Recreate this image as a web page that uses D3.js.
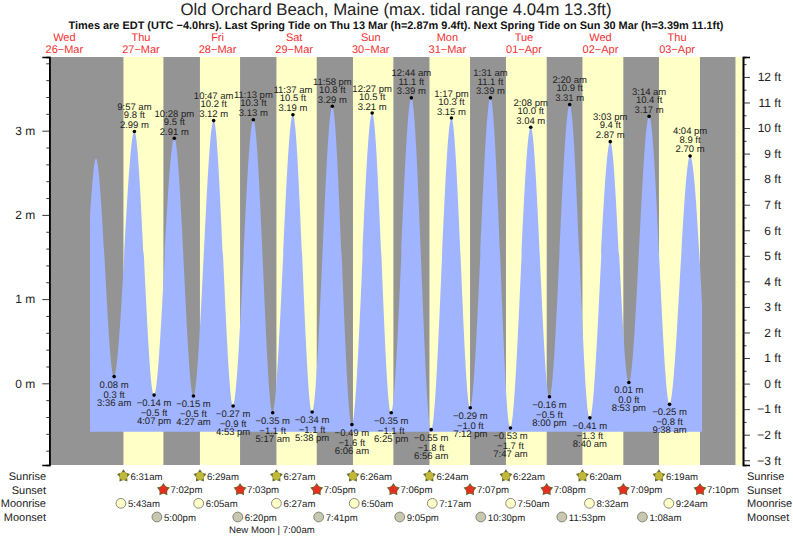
<!DOCTYPE html>
<html>
<head>
<meta charset="utf-8">
<title>Old Orchard Beach tide chart</title>
<script src="https://d3js.org/d3.v7.min.js"></script>
<style>
  body { margin: 0; background: #fff; }
  svg { display: block; }
  text { font-family: "Liberation Sans", Arial, sans-serif; text-rendering: geometricPrecision; }
</style>
</head>
<body>
<svg id="chart" width="793" height="539"></svg>
<script>
// tide extremes as printed on the chart
var tideDates = ["03-27","03-27","03-27","03-27","03-28","03-28","03-28","03-28","03-29","03-29","03-29","03-29",
                 "03-30","03-30","03-30","03-31","03-31","03-31","03-31","04-01","04-01","04-01","04-01",
                 "04-02","04-02","04-02","04-02","04-03","04-03","04-03"];
var tideTimes = ["3:36 am","9:57 am","4:07 pm","10:28 pm","4:27 am","10:47 am","4:53 pm","11:13 pm","5:17 am","11:37 am","5:38 pm","11:58 pm",
                 "6:06 am","12:27 pm","6:25 pm","12:44 am","6:56 am","1:17 pm","7:12 pm","1:31 am","7:47 am","2:08 pm","8:00 pm",
                 "2:20 am","8:40 am","3:03 pm","8:53 pm","3:14 am","9:38 am","4:04 pm"];
var tideMetres = [0.08,2.99,-0.14,2.91,-0.15,3.12,-0.27,3.13,-0.35,3.19,-0.34,3.29,
                  -0.49,3.21,-0.35,3.39,-0.55,3.15,-0.29,3.39,-0.53,3.04,-0.16,
                  3.31,-0.41,2.87,0.01,3.17,-0.25,2.70];
var tideFeet = [0.3,9.8,-0.5,9.5,-0.5,10.2,-0.9,10.3,-1.1,10.5,-1.1,10.8,
                -1.6,10.5,-1.1,11.1,-1.8,10.3,-1.0,11.1,-1.7,10.0,-0.5,
                10.9,-1.3,9.4,0.0,10.4,-0.8,8.9];
// unlabelled ends of the curve
var leadInDates = ["03-26","03-26"];
var leadInTimes = ["8:03 pm","9:54 pm"];
var leadInMetres = [2.0,2.67];
var leadOutDates = ["04-03"];
var leadOutTimes = ["7:50 pm"];
var leadOutMetres = [0.94];
var fillFloor = -0.575;

var dayLabels = ["Wed","Thu","Fri","Sat","Sun","Mon","Tue","Wed","Thu"];
var dayDates = ["03-26","03-27","03-28","03-29","03-30","03-31","04-01","04-02","04-03"];
var dayNames = ["26\u2212Mar","27\u2212Mar","28\u2212Mar","29\u2212Mar","30\u2212Mar","31\u2212Mar","01\u2212Apr","02\u2212Apr","03\u2212Apr"];

var sunDates = ["03-27","03-28","03-29","03-30","03-31","04-01","04-02","04-03"];
var sunrises = ["6:31am","6:29am","6:27am","6:26am","6:24am","6:22am","6:20am","6:19am"];
var sunsets = ["7:02pm","7:03pm","7:05pm","7:06pm","7:07pm","7:08pm","7:09pm","7:10pm"];
var lastDawn = "04-04 6:17am";

var moonriseDates = ["03-27","03-28","03-29","03-30","03-31","04-01","04-02","04-03"];
var moonrises = ["5:43am","6:05am","6:27am","6:50am","7:17am","7:50am","8:32am","9:24am"];
var moonsetDates = ["03-27","03-28","03-29","03-30","03-31","04-01","04-03"];
var moonsets = ["5:00pm","6:20pm","7:41pm","9:05pm","10:30pm","11:53pm","1:08am"];

var metreTicks = [0,1,2,3];
var metreMinor = [-0.8,-0.6,-0.4,-0.2,0.2,0.4,0.6,0.8,1.2,1.4,1.6,1.8,2.2,2.4,2.6,2.8,3.2,3.4,3.6,3.8];
var feetTicks = [-3,-2,-1,0,1,2,3,4,5,6,7,8,9,10,11,12];
var feetMinor = [-2.5,-1.5,-0.5,0.5,1.5,2.5,3.5,4.5,5.5,6.5,7.5,8.5,9.5,10.5,11.5,12.5];

var minus = function(s) { return String(s).replace("-", "\u2212"); };
var parseTide = d3.utcParse("%Y-%m-%d %I:%M %p");
var parseSun = d3.utcParse("%Y-%m-%d %I:%M%p");
var tideDate = function(d, t) { return parseTide("2025-" + d + " " + t); };
var sunDate = function(d, t) { return parseSun("2025-" + d + " " + t); };

var plotLeft = 50, plotRight = 742, plotTop = 57, plotBottom = 465;

var x = d3.scaleUtc()
    .domain([tideDate("03-26", "7:30 am"), tideDate("04-04", "8:20 am")])
    .range([plotLeft, plotRight]);
var y = d3.scaleLinear().domain([-0.97, 3.875]).range([plotBottom, plotTop]);
var yFeet = d3.scaleLinear().domain([-3.186, 12.78]).range([plotBottom, plotTop]);

var svg = d3.select("#chart");

// night as the plot background, daylight bands on top
svg.append("rect").attr("x", plotLeft).attr("y", plotTop)
    .attr("width", plotRight - plotLeft).attr("height", plotBottom - plotTop).attr("fill", "#949494");

var dawns = sunDates.map(function(d, i) { return sunDate(d, sunrises[i]); });
var dusks = sunDates.map(function(d, i) { return sunDate(d, sunsets[i]); });
var bands = dawns.map(function(d, i) { return [d, dusks[i]]; });
bands.push([sunDate(lastDawn.slice(0, 5), lastDawn.slice(6)), x.domain()[1]]);

svg.append("g").selectAll("rect").data(bands).enter().append("rect")
    .attr("x", function(d) { return x(d[0]); })
    .attr("y", plotTop)
    .attr("width", function(d) { return x(d[1]) - x(d[0]); })
    .attr("height", plotBottom - plotTop)
    .attr("fill", "#ffffc8");

// tide curve
var extremes = tideDates.map(function(d, i) {
    return { t: tideDate(d, tideTimes[i]), m: tideMetres[i], ft: tideFeet[i], label: tideTimes[i] };
});
var curve = leadInDates.map(function(d, i) { return { t: tideDate(d, leadInTimes[i]), m: leadInMetres[i] }; })
    .concat(extremes)
    .concat(leadOutDates.map(function(d, i) { return { t: tideDate(d, leadOutTimes[i]), m: leadOutMetres[i] }; }));

var area = d3.area()
    .x(function(d) { return x(d.t); })
    .y0(y(fillFloor))
    .y1(function(d) { return y(d.m); })
    .curve(d3.curveMonotoneX);

svg.append("path").datum(curve).attr("d", area).attr("fill", "#a0b4ff");

svg.append("g").selectAll("circle").data(extremes).enter().append("circle")
    .attr("cx", function(d) { return x(d.t); })
    .attr("cy", function(d) { return y(d.m); })
    .attr("r", 1.8)
    .attr("fill", "#000");

// three line label by each high and low
var labels = svg.append("g").attr("font-size", 9.5).attr("fill", "#222").attr("text-anchor", "middle");
extremes.forEach(function(d, i) {
    var high = i > 0 ? d.m > extremes[i - 1].m : false;
    var offs = high ? [-3.5, -13.3, -21.5] : [11, 21, 29];
    var lines = [minus(d.m.toFixed(2)) + " m", minus(d.ft.toFixed(1)) + " ft", d.label];
    lines.forEach(function(s, k) {
        labels.append("text").attr("x", x(d.t)).attr("y", y(d.m) + offs[k]).text(s);
    });
});

// axes
var leftAxis = svg.append("g").attr("transform", "translate(49.3,0)");
leftAxis.append("g").call(d3.axisLeft(y).tickValues(metreMinor).tickSize(3).tickFormat(""));
leftAxis.append("g").call(d3.axisLeft(y).tickValues(metreTicks).tickSize(7).tickPadding(7)
    .tickFormat(function(d) { return d + " m"; }));
var rightAxis = svg.append("g").attr("transform", "translate(743,0)");
rightAxis.append("g").call(d3.axisRight(yFeet).tickValues(feetMinor).tickSize(3.5).tickFormat(""));
rightAxis.append("g").call(d3.axisRight(yFeet).tickValues(feetTicks).tickSize(7)
    .tickFormat(function(d) { return minus(d) + " ft"; }));
rightAxis.selectAll("text").attr("text-anchor", "end").attr("x", 38);

svg.selectAll(".domain").attr("stroke", "#000").attr("stroke-width", 1.6);
svg.selectAll(".tick line").attr("stroke", "#222").attr("stroke-width", 0.9);
svg.selectAll(".tick text").attr("font-size", 12).attr("font-family", "Liberation Sans").attr("fill", "#222");

// headings
svg.append("text").attr("x", 396).attr("y", 15).attr("text-anchor", "middle")
    .attr("font-size", 16.75).attr("fill", "#222")
    .text("Old Orchard Beach, Maine (max. tidal range 4.04m 13.3ft)");
svg.append("text").attr("x", 396).attr("y", 29).attr("text-anchor", "middle")
    .attr("font-size", 10.95).attr("font-weight", "bold").attr("fill", "#111")
    .text("Times are EDT (UTC \u22124.0hrs). Last Spring Tide on Thu 13 Mar (h=2.87m 9.4ft). Next Spring Tide on Sun 30 Mar (h=3.39m 11.1ft)");

var days = svg.append("g").attr("font-size", 11).attr("fill", "#f03030").attr("text-anchor", "middle");
dayDates.forEach(function(d, i) {
    var mid = x(tideDate(d, "12:00 pm"));
    days.append("text").attr("x", mid).attr("y", 41).text(dayLabels[i]);
    days.append("text").attr("x", mid).attr("y", 53).text(dayNames[i]);
});

// sun and moon rows
var rowNames = ["Sunrise","Sunset","Moonrise","Moonset"];
var rowY = d3.scalePoint().domain(rowNames).range([476, 517]);
var rowText = svg.append("g").attr("font-size", 11).attr("fill", "#222");
rowNames.forEach(function(n) {
    rowText.append("text").attr("x", 46).attr("y", rowY(n) + 4).attr("text-anchor", "end").text(n);
    rowText.append("text").attr("x", 747).attr("y", rowY(n) + 4).text(n);
});

// a fat five point star, fatter than d3.symbolStar
var fatStar = {
    draw: function(ctx, size) {
        var r = Math.sqrt(size), inner = r * 0.58;
        for (var k = 0; k < 10; k++) {
            var a = -Math.PI / 2 + k * Math.PI / 5, rad = k % 2 ? inner : r;
            if (k === 0) ctx.moveTo(rad * Math.cos(a), rad * Math.sin(a));
            else ctx.lineTo(rad * Math.cos(a), rad * Math.sin(a));
        }
        ctx.closePath();
    }
};
var star = d3.symbol().type(fatStar).size(46);

function drawRow(name, dates, times, draw) {
    var g = svg.append("g");
    dates.forEach(function(d, i) {
        var px = x(sunDate(d, times[i]));
        draw(g, px, rowY(name));
        g.append("text").attr("x", px + 7).attr("y", rowY(name) + 3.5)
            .attr("font-size", 9.6).attr("fill", "#222").text(times[i]);
    });
}
function drawStar(fill) {
    return function(g, px, py) {
        g.append("path").attr("d", star()).attr("transform", "translate(" + px + "," + py + ")")
            .attr("fill", "#68682c");
        g.append("circle").attr("cx", px).attr("cy", py).attr("r", 3.9).attr("fill", fill);
    };
}
function drawMoon(fill) {
    return function(g, px, py) {
        g.append("circle").attr("cx", px).attr("cy", py).attr("r", 4.9)
            .attr("fill", fill).attr("stroke", "#7c7c74").attr("stroke-width", 0.9);
    };
}
drawRow("Sunrise", sunDates, sunrises, drawStar("#c0b838"));
drawRow("Sunset", sunDates, sunsets, drawStar("#e03020"));
drawRow("Moonrise", moonriseDates, moonrises, drawMoon("#ffffc8"));
drawRow("Moonset", moonsetDates, moonsets, drawMoon("#c8c8b0"));

svg.append("text").attr("x", x(sunDate("03-29", "6:55am")) - 6).attr("y", 533).attr("text-anchor", "middle")
    .attr("font-size", 9.6).attr("fill", "#222").text("New Moon | 7:00am");
</script>
</body>
</html>
